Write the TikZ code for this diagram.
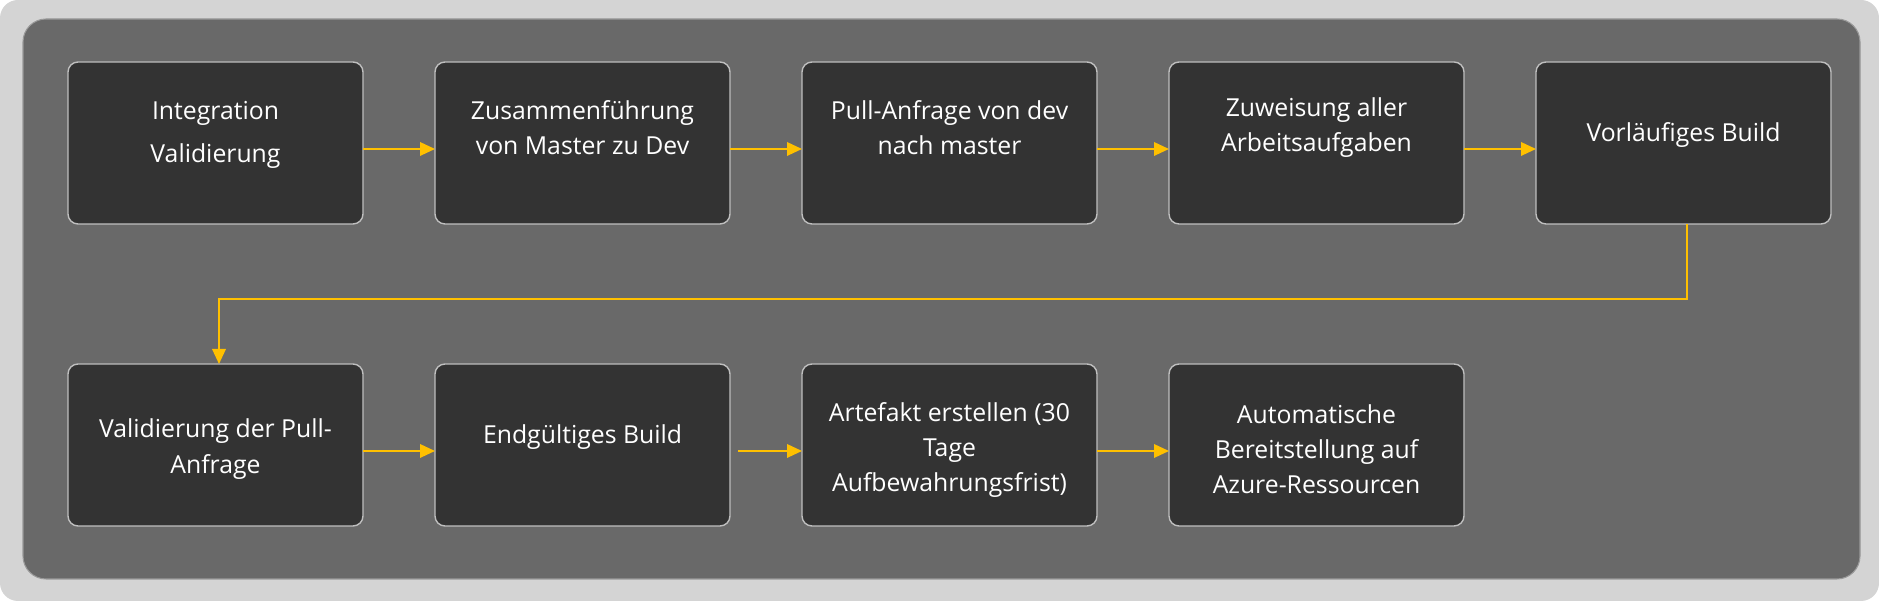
\documentclass[tikz,border=0pt]{standalone}
\usepackage{fontspec}
\setmainfont{Open Sans}
\usepackage{xcolor}
\usetikzlibrary{arrows.meta, positioning}
\definecolor{framegray}{HTML}{D4D4D4}
\definecolor{panelgray}{HTML}{696969}
\definecolor{paneledge}{HTML}{999999}
\definecolor{boxgray}{HTML}{333333}
\definecolor{edgegray}{HTML}{BFBFBF}
\definecolor{flowgold}{HTML}{FFC000}
\tikzset{
    box/.style={rectangle, draw=edgegray, line width=0.8pt, fill=boxgray, rounded corners=0.2cm, minimum width=5.9cm, minimum height=3.24cm, outer sep=0pt},
    boxtext/.style={align=center, text=white, font=\fontsize{14.1}{20}\selectfont},
    arrow/.style={draw=flowgold, line width=1.1pt, -{Triangle[length=0.3cm, width=0.27cm]}},
    rowarrow/.style={arrow, transform canvas={yshift=-0.12cm}}
}

\begin{document}
\begin{tikzpicture}[node distance=1.44cm]
    \useasboundingbox (0,0) rectangle (37.58,12.02);
    \fill[framegray, rounded corners=0.36cm] (0,0) rectangle (37.58,12.02);
    \draw[paneledge, fill=panelgray, line width=0.6pt, rounded corners=0.46cm] (0.46,0.44) rectangle (37.2,11.64);

    % first row
    \node (integ) [box, label={[boxtext, yshift=0.16cm]center:Integration\\[4.4pt]Validierung}] at (4.31,9.16) {};
    \node (merge) [box, right=of integ, label={[boxtext, yshift=0.3cm]center:Zusammenführung\\von Master zu Dev}] {};
    \node (pullreq) [box, right=of merge, label={[boxtext, yshift=0.3cm]center:Pull-Anfrage von dev\\nach master}] {};
    \node (assign) [box, right=of pullreq, label={[boxtext, yshift=0.3cm]center:Zuweisung aller\\Arbeitsaufgaben}] {};
    \node (prelim) [box, right=of assign, label={[boxtext, yshift=0.16cm]center:Vorläufiges Build}] {};
    % second row
    \node (valpr) [box, below=2.8cm of integ, label={[boxtext, yshift=-0.08cm]center:Validierung der Pull-\\Anfrage}] {};
    \node (final) [box, right=of valpr, label={[boxtext, yshift=0.16cm]center:Endgültiges Build}] {};
    \node (artefact) [box, right=of final, label={[boxtext, yshift=-0.1cm]center:Artefakt erstellen (30\\Tage\\Aufbewahrungsfrist)}] {};
    \node (deploy) [box, right=of artefact, label={[boxtext, yshift=-0.08cm]center:Automatische\\Bereitstellung auf\\Azure-Ressourcen}] {};

    \draw [rowarrow] (integ) -- (merge);
    \draw [rowarrow] (merge) -- (pullreq);
    \draw [rowarrow] (pullreq) -- (assign);
    \draw [rowarrow] (assign) -- (prelim);
    \draw [arrow] ([xshift=0.07cm]prelim.south) -- ++(0,-1.5) -| ([xshift=0.07cm]valpr.north);
    \draw [rowarrow] (valpr) -- (final);
    \draw [rowarrow, shorten <=0.16cm] (final) -- (artefact);
    \draw [rowarrow] (artefact) -- (deploy);
\end{tikzpicture}
\end{document}
